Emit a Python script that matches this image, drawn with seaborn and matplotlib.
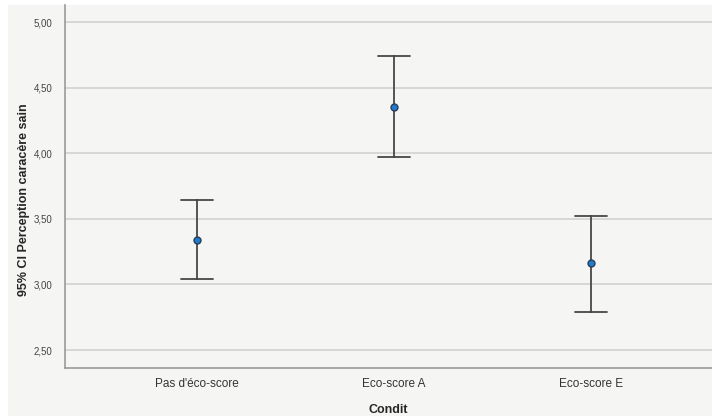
import pandas as pd
import numpy as np
import seaborn as sns
import matplotlib.pyplot as plt
from matplotlib.patches import Rectangle

# Données (IC 95 %)
conditions = ["Pas d'éco-score", "Eco-score A", "Eco-score E"]
moyennes = [3.34, 4.355, 3.16]
ic_bas = [3.042, 3.974, 2.787]
ic_haut = [3.640, 4.742, 3.525]
y_ticks = [2.5, 3.0, 3.5, 4.0, 4.5, 5.0]

# Une ligne par borne : médiane = moyenne, intervalle 100 % = IC
rows = []
for c, lo, m, hi in zip(conditions, ic_bas, moyennes, ic_haut):
    for v in (lo, m, hi):
        rows.append({"Condit": c, "valeur": v})
df = pd.DataFrame(rows)

sns.set_style("white")
plt.rcParams["font.family"] = ["Liberation Sans", "DejaVu Sans"]

fig = plt.figure(figsize=(7.12, 4.16), dpi=100)
fig.patch.set_facecolor("white")
fig.patches.append(Rectangle((8 / 712, 0), 1, 1 - 5 / 416, transform=fig.transFigure,
                             facecolor="#f5f6f4", edgecolor="none", zorder=-10))

ax = fig.add_axes([65 / 712, 48 / 416, 647 / 712, 363 / 416])
ax.set_facecolor("#f5f6f4")

sns.pointplot(data=df, x="Condit", y="valeur", order=conditions,
              estimator="median", errorbar=("pi", 100),
              linestyle="none", markers="o", markersize=5,
              color="#1f7bd0", capsize=0.16,
              err_kws={"color": "#474747", "linewidth": 1.3, "zorder": 2},
              ax=ax)
for line in ax.lines:
    if line.get_marker() == "o":
        line.set_markeredgecolor("#2b3c55")
        line.set_markeredgewidth(1.0)
        line.set_zorder(3)

ax.set_ylim(2.363, 5.13)
ax.set_xlim(-0.67, 2.614)
ax.set_yticks(y_ticks)
ax.set_yticklabels([f"{t:.2f}".replace(".", ",") for t in y_ticks])
ax.yaxis.grid(True, color="#d4d5d3", linewidth=1.3)
ax.set_axisbelow(True)

for s in ["top", "right"]:
    ax.spines[s].set_visible(False)
for s in ["left", "bottom"]:
    ax.spines[s].set_color("#9a9a9a")
    ax.spines[s].set_linewidth(1.2)

ax.tick_params(axis="y", length=0, pad=9, labelsize=7, labelcolor="#444444")
ax.tick_params(axis="x", length=0, pad=7, labelsize=8.5, labelcolor="#333333")

ax.set_xlabel("Condit", fontsize=9, fontweight="bold", labelpad=10)
ax.set_ylabel("95% CI Perception caracère sain", fontsize=9, fontweight="bold")
ax.yaxis.set_label_coords(-0.054, 0.463)

fig.savefig("out.png", dpi=100, facecolor=fig.get_facecolor())
